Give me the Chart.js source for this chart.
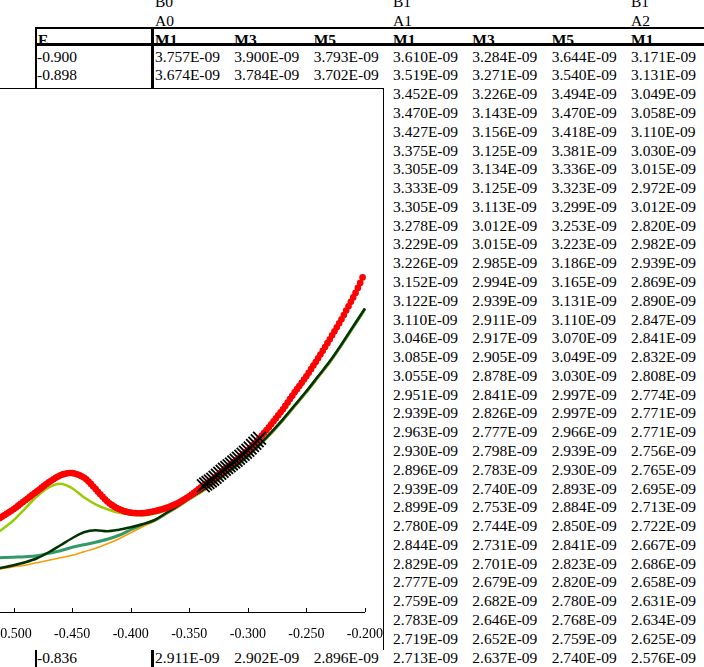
<!DOCTYPE html>
<html><head><meta charset="utf-8">
<script src="https://cdn.jsdelivr.net/npm/chart.js@4.4.1/dist/chart.umd.min.js"></script>
<style>
html,body{margin:0;padding:0;background:#fff;width:704px;height:667px;overflow:hidden;position:relative;font-family:"Liberation Serif","Times New Roman",serif;}
.t{position:absolute;font-size:15.5px;line-height:18.78px;white-space:nowrap;color:#000;}
.b{font-weight:bold;}
.ln{position:absolute;background:#000;}
#box{position:absolute;left:-120px;top:88px;width:503px;height:561px;border-top:1px solid #000;border-right:1px solid #000;background:#fff;overflow:hidden;z-index:5;}
#c{position:absolute;left:0;top:0;}
</style></head><body>
<div id="sheet"></div>
<div id="box"><canvas id="c" width="480" height="568"></canvas></div>
<script>
// ---------- spreadsheet data ----------
const GROUP_B = ["B0", "", "", "B1", "", "", "B1"];
const GROUP_A = ["A0", "", "", "A1", "", "", "A2"];
const COL_HEADERS = ["M1", "M3", "M5", "M1", "M3", "M5", "M1"];
const E_LABELS = ["-0.900","-0.898","-0.896","-0.894","-0.892","-0.890","-0.888","-0.886","-0.884","-0.882","-0.880","-0.878","-0.876","-0.874","-0.872","-0.870","-0.868","-0.866","-0.864","-0.862","-0.860","-0.858","-0.856","-0.854","-0.852","-0.850","-0.848","-0.846","-0.844","-0.842","-0.840","-0.838","-0.836"];
const B0A0_M1 = [3.757e-9,3.674e-9,null,null,null,null,null,null,null,null,null,null,null,null,null,null,null,null,null,null,null,null,null,null,null,null,null,null,null,null,null,null,2.911e-9];
const B0A0_M3 = [3.900e-9,3.784e-9,null,null,null,null,null,null,null,null,null,null,null,null,null,null,null,null,null,null,null,null,null,null,null,null,null,null,null,null,null,null,2.902e-9];
const B0A0_M5 = [3.793e-9,3.702e-9,null,null,null,null,null,null,null,null,null,null,null,null,null,null,null,null,null,null,null,null,null,null,null,null,null,null,null,null,null,null,2.896e-9];
const B1A1_M1 = [3.610e-9,3.519e-9,3.452e-9,3.470e-9,3.427e-9,3.375e-9,3.305e-9,3.333e-9,3.305e-9,3.278e-9,3.229e-9,3.226e-9,3.152e-9,3.122e-9,3.110e-9,3.046e-9,3.085e-9,3.055e-9,2.951e-9,2.939e-9,2.963e-9,2.930e-9,2.896e-9,2.939e-9,2.899e-9,2.780e-9,2.844e-9,2.829e-9,2.777e-9,2.759e-9,2.783e-9,2.719e-9,2.713e-9];
const B1A1_M3 = [3.284e-9,3.271e-9,3.226e-9,3.143e-9,3.156e-9,3.125e-9,3.134e-9,3.125e-9,3.113e-9,3.012e-9,3.015e-9,2.985e-9,2.994e-9,2.939e-9,2.911e-9,2.917e-9,2.905e-9,2.878e-9,2.841e-9,2.826e-9,2.777e-9,2.798e-9,2.783e-9,2.740e-9,2.753e-9,2.744e-9,2.731e-9,2.701e-9,2.679e-9,2.682e-9,2.646e-9,2.652e-9,2.637e-9];
const B1A1_M5 = [3.644e-9,3.540e-9,3.494e-9,3.470e-9,3.418e-9,3.381e-9,3.336e-9,3.323e-9,3.299e-9,3.253e-9,3.223e-9,3.186e-9,3.165e-9,3.131e-9,3.110e-9,3.070e-9,3.049e-9,3.030e-9,2.997e-9,2.997e-9,2.966e-9,2.939e-9,2.930e-9,2.893e-9,2.884e-9,2.850e-9,2.841e-9,2.823e-9,2.820e-9,2.780e-9,2.768e-9,2.759e-9,2.740e-9];
const B1A2_M1 = [3.171e-9,3.131e-9,3.049e-9,3.058e-9,3.110e-9,3.030e-9,3.015e-9,2.972e-9,3.012e-9,2.820e-9,2.982e-9,2.939e-9,2.869e-9,2.890e-9,2.847e-9,2.841e-9,2.832e-9,2.808e-9,2.774e-9,2.771e-9,2.771e-9,2.756e-9,2.765e-9,2.695e-9,2.713e-9,2.722e-9,2.667e-9,2.686e-9,2.658e-9,2.631e-9,2.634e-9,2.625e-9,2.576e-9];

// ---------- chart data (arbitrary current units, y axis hidden) ----------
const X_MIN = -0.55, X_MAX = -0.2, X_TICK_STEP = 0.05;
const Y_MIN = 0, Y_MAX = 51.25;
const LINE_E = [-0.512,-0.50,-0.49,-0.48,-0.47,-0.46,-0.45,-0.44,-0.43,-0.42,-0.41,-0.40,-0.39,-0.38,-0.37,-0.36,-0.35,-0.34,-0.33,-0.32,-0.31,-0.30,-0.29,-0.28,-0.27,-0.26,-0.25,-0.24,-0.23,-0.22,-0.21,-0.20,-0.196];
const DARKGREEN_I = [4.4,4.7,5.0,5.4,6.0,6.7,7.4,8.0,8.2,8.1,8.25,8.5,8.8,9.2,9.9,10.6,11.4,12.1,12.9,13.8,14.7,15.7,16.8,18.0,19.3,20.7,22.1,23.6,25.1,26.8,28.6,30.4,31.2];
const TEAL_I = [5.45,5.5,5.55,5.65,5.9,6.15,6.5,6.75,7.0,7.3,7.7,8.25,8.75,9.15,9.85,10.55,11.35,12.05,12.85,13.75,14.65,15.65,16.75,17.95,19.25,20.65,22.05,23.55,25.05,26.75,28.55,30.35,31.15];
const ORANGE_I = [4.3,4.55,4.7,4.95,5.2,5.45,5.7,6.05,6.4,6.85,7.35,7.95,8.55,9.1,9.8,10.5,11.3,12.0,12.8,13.7,14.6,15.6,16.7,17.9,19.2,20.6,22.0,23.5,25.0,26.7,28.5,30.3,31.1];
const YELLOWGREEN_I = [8.1,9.2,10.4,11.6,12.5,12.85,12.4,11.5,10.8,10.3,9.95,9.8,9.7,9.85,10.2,10.65,11.3,12.0,12.8,13.7,14.6,15.6,16.7,17.9,19.2,20.6,22.0,23.5,25.0,26.7,28.5,30.3,31.1];

const RED_E = [-0.512,-0.510,-0.508,-0.506,-0.504,-0.502,-0.500,-0.498,-0.496,-0.494,-0.492,-0.490,-0.488,-0.486,-0.484,-0.482,-0.480,-0.478,-0.476,-0.474,-0.472,-0.470,-0.468,-0.466,-0.464,-0.462,-0.460,-0.458,-0.456,-0.454,-0.452,-0.450,-0.448,-0.446,-0.444,-0.442,-0.440,-0.438,-0.436,-0.434,-0.432,-0.430,-0.428,-0.426,-0.424,-0.422,-0.420,-0.418,-0.416,-0.414,-0.412,-0.410,-0.408,-0.406,-0.404,-0.402,-0.400,-0.398,-0.396,-0.394,-0.392,-0.390,-0.388,-0.386,-0.384,-0.382,-0.380,-0.378,-0.376,-0.374,-0.372,-0.370,-0.368,-0.366,-0.364,-0.362,-0.360,-0.358,-0.356,-0.354,-0.352,-0.350,-0.348,-0.346,-0.344,-0.342,-0.340,-0.338,-0.336,-0.334,-0.332,-0.330,-0.328,-0.326,-0.324,-0.322,-0.320,-0.318,-0.316,-0.314,-0.312,-0.310,-0.308,-0.306,-0.304,-0.302,-0.300,-0.298,-0.296,-0.294,-0.292,-0.290,-0.288,-0.286,-0.284,-0.282,-0.280,-0.278,-0.276,-0.274,-0.272,-0.270,-0.268,-0.266,-0.264,-0.262,-0.260,-0.258,-0.256,-0.254,-0.252,-0.250,-0.248,-0.246,-0.244,-0.242,-0.240,-0.238,-0.236,-0.234,-0.232,-0.230,-0.228,-0.226,-0.224,-0.222,-0.220,-0.218,-0.216,-0.214,-0.212,-0.210,-0.208,-0.206,-0.204,-0.202];
const RED_I = [9.40,9.55,9.70,9.85,10.00, 10.15,10.30,10.48,10.66,10.84, 11.02,11.20,11.38,11.56,11.74, 11.92,12.10,12.28,12.46,12.64, 12.82,13.00,13.15,13.30,13.45, 13.58,13.70,13.79,13.86,13.91, 13.93,13.92,13.88,13.81,13.72, 13.61,13.48,13.30,13.08,12.84, 12.58,12.32,12.05,11.79,11.54, 11.30,11.08,10.88,10.71,10.56, 10.43,10.32,10.22,10.13,10.06, 10.00,9.96,9.93,9.91,9.90, 9.90,9.91,9.93,9.96,10.00, 10.05,10.10,10.15,10.21,10.27, 10.34,10.41,10.50,10.59,10.69, 10.79,10.90,11.03,11.16,11.30, 11.45,11.60,11.77,11.94,12.12, 12.31,12.50,12.66,12.82,12.98, 13.14,13.30,13.50,13.70,13.90, 14.10,14.30,14.48,14.66,14.84, 15.02,15.20,15.40,15.60,15.80, 16.00,16.20,16.43,16.67,16.91, 17.15,17.40,17.67,17.95,18.23, 18.51,18.80,19.10,19.40,19.70, 20.00,20.30,20.64,20.98,21.32, 21.66,22.00,22.32,22.64,22.96, 23.28,23.60,23.96,24.32,24.68, 25.04,25.40,25.78,26.16,26.54, 26.92,27.30,27.70,28.10,28.50, 28.90,29.30,29.74,30.18,30.62, 31.06,31.50,31.95,32.45,32.95, 33.50];

const BLACK_E = [-0.338,-0.336,-0.334,-0.332,-0.330,-0.328,-0.326,-0.324,-0.322,-0.320,-0.318,-0.316,-0.314,-0.312,-0.310,-0.308,-0.306,-0.304,-0.302,-0.300,-0.298,-0.296,-0.294,-0.292,-0.290];
const BLACK_I = [12.66,12.82,12.98,13.14,13.30,13.50,13.70,13.90,14.10,14.30,14.48,14.66,14.84,15.02,15.20,15.40,15.60,15.80,16.00,16.20,16.43,16.67,16.91,17.15,17.40];

// ---------- build spreadsheet ----------
const sheet = document.getElementById('sheet');
const COL_X = [155, 234.3, 313.7, 393, 472.3, 551.7, 631];
const E_X = 37;
const ROW0 = 47.6, ROWH = 18.78;
function txt(s, x, y, bold) {
  const d = document.createElement('div');
  d.className = 't' + (bold ? ' b' : '');
  d.style.left = x + 'px'; d.style.top = y + 'px';
  d.textContent = s; sheet.appendChild(d);
}
function line(x, y, w, h) {
  const d = document.createElement('div');
  d.className = 'ln';
  d.style.left = x + 'px'; d.style.top = y + 'px'; d.style.width = w + 'px'; d.style.height = h + 'px';
  sheet.appendChild(d);
}
function fmt(v) {
  if (v === null) return '';
  return v.toExponential(3).toUpperCase().replace(/E([+-])(\d)$/, 'E$10$2');
}
GROUP_B.forEach((s, i) => { if (s) txt(s, COL_X[i], ROW0 - 3 * ROWH + 2.2); });
GROUP_A.forEach((s, i) => { if (s) txt(s, COL_X[i], ROW0 - 2 * ROWH + 2.2); });
txt('E', E_X + 1, ROW0 - 17, true);
COL_HEADERS.forEach((s, i) => txt(s, COL_X[i], ROW0 - 17, true));
const COLS = [B0A0_M1, B0A0_M3, B0A0_M5, B1A1_M1, B1A1_M3, B1A1_M5, B1A2_M1];
E_LABELS.forEach((e, r) => {
  const y = ROW0 + r * ROWH;
  txt(e, E_X, y);
  COLS.forEach((col, c) => { const s = fmt(col[r]); if (s) txt(s, COL_X[c], y); });
});
line(35, 27, 669, 2);
line(35, 43, 669, 3);
line(35, 27, 2, 640);
line(151, 27, 3, 640);

// ---------- chart ----------
const BOX_LEFT = -120, BOX_TOP = 89;              // page position of the chart box content
const PLOT_LEFT = -44.5, PLOT_RIGHT = 365, PLOT_TOP = 100, PLOT_BOTTOM = 612.5; // page position of plot area
const pts = (xs, ys) => xs.map((x, i) => ({ x: x, y: ys[i] }));
const insideTicks = {
  id: 'insideTicks',
  afterDraw(chart) {
    const sx = chart.scales.x, ctx = chart.ctx;
    const yb = Math.round(chart.chartArea.bottom);
    ctx.save();
    ctx.strokeStyle = '#000'; ctx.lineWidth = 1;
    sx.ticks.forEach(t => {
      const px = Math.round(sx.getPixelForValue(t.value)) + 0.5;
      ctx.beginPath(); ctx.moveTo(px, yb); ctx.lineTo(px, yb - 4); ctx.stroke();
    });
    ctx.restore();
  }
};
const lineDs = (label, data, color, width, order) => ({
  label, data, borderColor: color, backgroundColor: color, borderWidth: width,
  showLine: true, pointRadius: 0, cubicInterpolationMode: 'monotone', clip: false, order
});
function config() {
  return {
    type: 'scatter',
    data: {
      datasets: [
        { label: 'black', data: pts(BLACK_E, BLACK_I), pointStyle: 'crossRot', pointRadius: 9,
          borderColor: '#000', backgroundColor: '#000', pointBorderWidth: 1.8, showLine: false, order: 0, clip: false },
        { label: 'red', data: pts(RED_E, RED_I), pointStyle: 'circle', pointRadius: 2.7,
          borderColor: '#ff0000', backgroundColor: '#ff0000', pointBorderWidth: 1.2, showLine: false, order: 1, clip: false },
        lineDs('darkgreen', pts(LINE_E, DARKGREEN_I), '#003300', 2.5, 2),
        lineDs('orange', pts(LINE_E, ORANGE_I), '#ff9900', 1.5, 3),
        lineDs('teal', pts(LINE_E, TEAL_I), '#339966', 3, 4),
        lineDs('yellowgreen', pts(LINE_E, YELLOWGREEN_I), '#99cc00', 2.5, 5)
      ]
    },
    options: {
      responsive: false, animation: false, devicePixelRatio: 1,
      layout: { autoPadding: false, padding: { left: 20, right: 20, top: 11, bottom: 0 } },
      plugins: { legend: { display: false }, tooltip: { enabled: false } },
      scales: {
        x: {
          type: 'linear', min: X_MIN, max: X_MAX,
          grid: { display: false, drawTicks: false },
          border: { display: true, color: '#000', width: 1 },
          ticks: { stepSize: X_TICK_STEP, padding: 14, color: '#000',
            font: { family: 'Liberation Serif', size: 14 },
            callback: v => Number(v).toFixed(3) }
        },
        y: { display: false, min: Y_MIN, max: Y_MAX }
      }
    },
    plugins: [insideTicks]
  };
}
const canvas = document.getElementById('c');
let W = 480, H = 568;
function build() {
  canvas.width = W; canvas.height = H;
  canvas.style.width = W + 'px'; canvas.style.height = H + 'px';
  return new Chart(canvas, config());
}
let chart = build();
let ca = chart.chartArea;
W = Math.round(W + ((PLOT_RIGHT - PLOT_LEFT) - (ca.right - ca.left)));
H = Math.round(H + ((PLOT_BOTTOM - PLOT_TOP) - (ca.bottom - ca.top)));
chart.destroy();
chart = build();
ca = chart.chartArea;
canvas.style.left = (PLOT_LEFT - ca.left - BOX_LEFT) + 'px';
canvas.style.top = (PLOT_BOTTOM - ca.bottom - BOX_TOP) + 'px';
</script>
</body></html>
